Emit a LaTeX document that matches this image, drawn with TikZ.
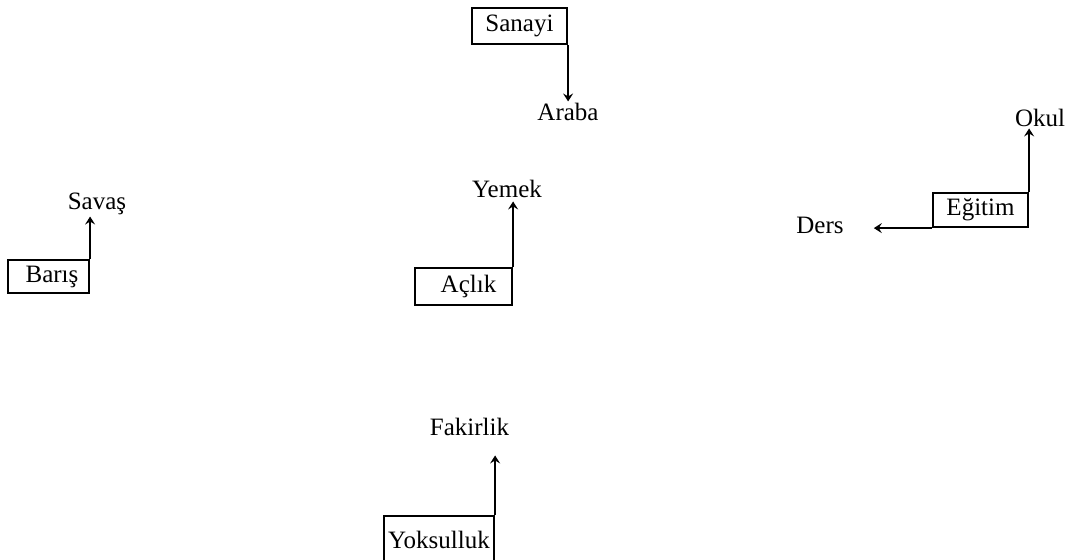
\documentclass[tikz,border=0pt]{standalone}
\usepackage{fontspec}
\setmainfont{Liberation Serif}
\usetikzlibrary{arrows.meta}
\tikzset{
  box/.style={draw, line width=2.2pt, inner sep=0pt, font=\fontsize{25}{30}\selectfont},
  lbl/.style={inner sep=2pt, font=\fontsize{25}{30}\selectfont},
  arr/.style={line width=2.2pt, -{Stealth[length=8pt,width=10pt,inset=3pt]}}
}
\begin{document}
\begin{tikzpicture}[x=1pt,y=-1pt]
\useasboundingbox (0,0) rectangle (1067,559);
\clip (0,0) rectangle (1067,559);
% Sanayi -> Araba
\node[box, minimum width=95pt, minimum height=36pt] (sanayi) at (519.5,26) {Sanayi};
\node[lbl, anchor=base] (araba) at (568,121) {Araba};
\draw[arr] (sanayi.south east) -- (araba.north -| sanayi.south east);
% Barış -> Savaş
\node[box, minimum width=81pt, minimum height=33pt] (baris) at (48.5,276.5) {\hspace{7pt}Barış};
\node[lbl, anchor=base] (savas) at (97,209) {Savaş};
\draw[arr] (baris.north east) -- (savas.south -| baris.north east);
% Açlık -> Yemek
\node[box, minimum width=97pt, minimum height=37pt] (aclik) at (463.5,286.5) {\hspace{10pt}Açlık};
\node[lbl, anchor=base] (yemek) at (507,197) {Yemek};
\draw[arr, shorten >=2pt] (aclik.north east) -- (yemek.south -| aclik.north east);
% Eğitim -> Okul, Ders
\node[box, minimum width=95pt, minimum height=34pt] (egitim) at (980.5,210) {Eğitim};
\node[lbl, anchor=base] (okul) at (1040,126) {Okul};
\node[lbl, anchor=base] (ders) at (820,233) {Ders};
\draw[arr] (egitim.north east) -- (okul.south -| egitim.north east);
\draw[arr, shorten >=28pt] (egitim.south west) -- (ders.east |- egitim.south west);
% Yoksulluk -> Fakirlik
\node[box, minimum width=110pt, anchor=north, inner ysep=15pt] (yoks) at (439,515) {Yoksulluk};
\node[lbl, anchor=base] (fakir) at (469.5,435) {Fakirlik};
\draw[arr, shorten >=18pt] (yoks.north east) -- (fakir.south -| yoks.north east);
\end{tikzpicture}
\end{document}
